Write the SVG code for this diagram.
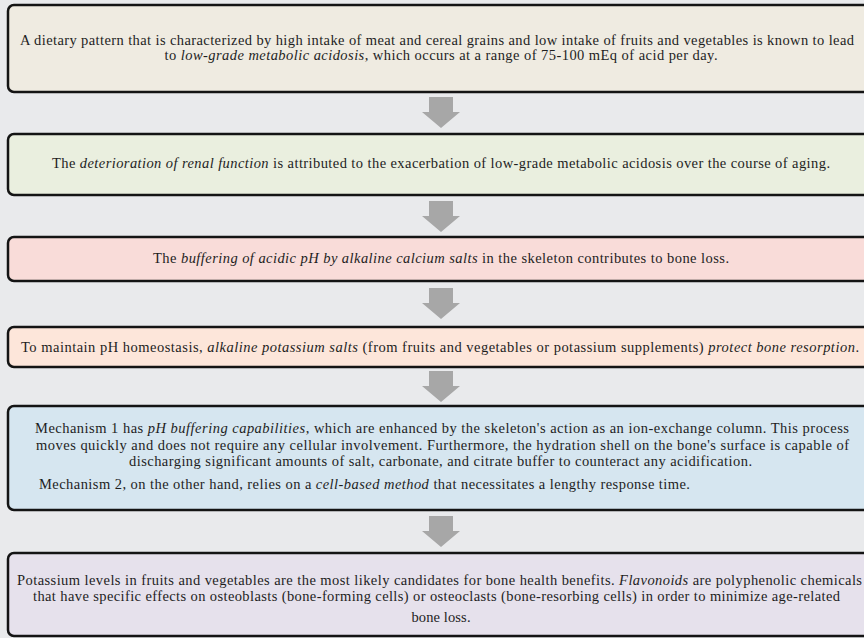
<svg xmlns="http://www.w3.org/2000/svg" width="864" height="638" viewBox="0 0 864 638">
<style>
.box{stroke:#141414;stroke-width:2.5}
.t{font-family:"Liberation Serif","Times New Roman",serif;font-size:14.5px;fill:#1e1e1e}
.c{text-anchor:middle}
.i{font-style:italic}
.arr{fill:#a7a7a7}
</style>
<defs>
<path id="arrow" d="M-12,0 H12 V15 H19 L0,31 L-19,15 H-12 Z"/>
</defs>
<rect x="0" y="0" width="864" height="638" fill="#e9eaec"/>
<g id="connectors" class="arr">
<use href="#arrow" x="441" y="97"/>
<use href="#arrow" x="441" y="201"/>
<use href="#arrow" x="441" y="288"/>
<use href="#arrow" x="441" y="371"/>
<use href="#arrow" x="441" y="516"/>
</g>
<g id="node1">
<rect class="box" x="8" y="5" width="880" height="87" rx="6" fill="#efebe1"/>
<text class="t" x="20" y="45" textLength="834" lengthAdjust="spacing">A dietary pattern that is characterized by high intake of meat and cereal grains and low intake of fruits and vegetables is known to lead</text>
<text class="t c" x="441" y="60" textLength="553" lengthAdjust="spacing">to <tspan class="i">low-grade metabolic acidosis</tspan>, which occurs at a range of 75-100 mEq of acid per day.</text>
</g>
<g id="node2">
<rect class="box" x="8" y="134" width="880" height="61" rx="6" fill="#eaefdf"/>
<text class="t" x="52" y="168" textLength="778" lengthAdjust="spacing">The <tspan class="i">deterioration of renal function</tspan> is attributed to the exacerbation of low-grade metabolic acidosis over the course of aging.</text>
</g>
<g id="node3">
<rect class="box" x="8" y="237" width="880" height="44" rx="6" fill="#f9dcd9"/>
<text class="t" x="153" y="263" textLength="576" lengthAdjust="spacing">The <tspan class="i">buffering of acidic pH by alkaline calcium salts</tspan> in the skeleton contributes to bone loss.</text>
</g>
<g id="node4">
<rect class="box" x="8" y="327" width="880" height="40" rx="6" fill="#fde6da"/>
<text class="t" x="21" y="352" textLength="838" lengthAdjust="spacing">To maintain pH homeostasis, <tspan class="i">alkaline potassium salts</tspan> (from fruits and vegetables or potassium supplements) <tspan class="i">protect bone resorption</tspan>.</text>
</g>
<g id="node5">
<rect class="box" x="8" y="406" width="880" height="104" rx="6" fill="#d6e6f0"/>
<text class="t" x="35" y="433" textLength="814" lengthAdjust="spacing">Mechanism 1 has <tspan class="i">pH buffering capabilities</tspan>, which are enhanced by the skeleton's action as an ion-exchange column. This process</text>
<text class="t" x="36" y="450" textLength="813" lengthAdjust="spacing">moves quickly and does not require any cellular involvement. Furthermore, the hydration shell on the bone's surface is capable of</text>
<text class="t" x="129" y="466" textLength="623" lengthAdjust="spacing">discharging significant amounts of salt, carbonate, and citrate buffer to counteract any acidification.</text>
<text class="t" x="39" y="489" textLength="651" lengthAdjust="spacing">Mechanism 2, on the other hand, relies on a <tspan class="i">cell-based method</tspan> that necessitates a lengthy response time.</text>
</g>
<g id="node6">
<rect class="box" x="8" y="553" width="880" height="83" rx="6" fill="#e6e1ec"/>
<text class="t" x="17" y="585" textLength="845" lengthAdjust="spacing">Potassium levels in fruits and vegetables are the most likely candidates for bone health benefits. <tspan class="i">Flavonoids</tspan> are polyphenolic chemicals</text>
<text class="t" x="33" y="601" textLength="807" lengthAdjust="spacing">that have specific effects on osteoblasts (bone-forming cells) or osteoclasts (bone-resorbing cells) in order to minimize age-related</text>
<text class="t c" x="441" y="622" textLength="59" lengthAdjust="spacing">bone loss.</text>
</g>
</svg>
